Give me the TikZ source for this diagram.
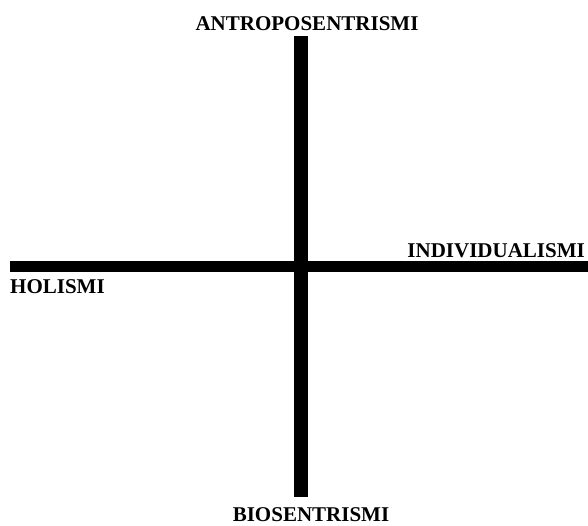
\documentclass[tikz,border=0pt]{standalone}
\usepackage{fontspec}
\setmainfont{Liberation Serif}
\begin{document}
\begin{tikzpicture}[x=1pt,y=-1pt,
  lbl/.style={inner sep=0pt,font=\fontsize{21}{25}\selectfont\bfseries},
  axis/.style={line cap=butt,draw=black}]
\useasboundingbox[fill=white] (0,0) rectangle (588,525);
\coordinate (vt) at (300.5,36);
\coordinate (vb) at (300.5,497);
\coordinate (hl) at (10,266.5);
\coordinate (hr) at (588,266.5);
\draw[axis,line width=14pt] (vt) -- (vb);
\draw[axis,line width=11pt] (hl) -- (hr);
\node[lbl,anchor=base] (top) at (307,30) {ANTROPOSENTRISMI};
\node[lbl,anchor=base] (bot) at (311,521) {BIOSENTRISMI};
\node[lbl,anchor=base west] (left) at (10,293) {HOLISMI};
\node[lbl,anchor=base east] (right) at (585,257) {INDIVIDUALISMI};
\end{tikzpicture}
\end{document}
